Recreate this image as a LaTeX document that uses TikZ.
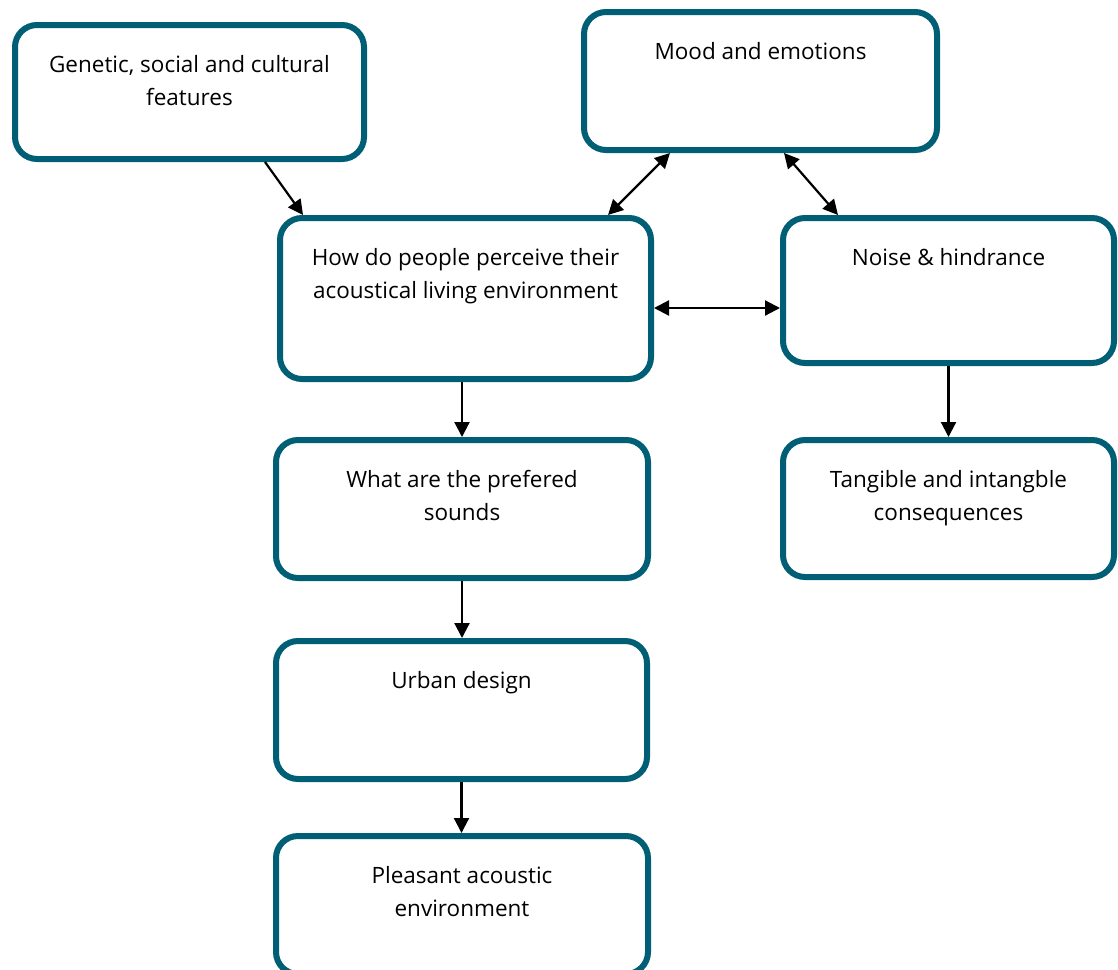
\documentclass[tikz,border=0pt]{standalone}
\usepackage{fontspec}
\setmainfont{Open Sans}
\usetikzlibrary{arrows.meta, positioning}
\usepackage{xcolor}
\definecolor{boxteal}{RGB}{0,94,117}

\begin{document}
\begin{tikzpicture}[
    x=1pt, y=-1pt,
    box/.style={rectangle, rounded corners=22pt, draw=boxteal, line width=6pt,
                fill=white, inner sep=0pt},
    lbl/.style={anchor=north, yshift=-33pt, inner sep=0pt, align=center,
                font=\fontsize{22.5}{33}\selectfont},
    arr/.style={-{Triangle[length=15pt, width=15pt]}, line width=2.2pt, color=black},
    both/.style={{Triangle[length=15pt, width=15pt]}-{Triangle[length=15pt, width=15pt]},
                 line width=2.2pt, color=black}
]
\clip (0,0) rectangle (1118,969);

% boxes
\node[box, minimum width=349pt, minimum height=134pt,
      label={[lbl]north:Genetic, social and cultural\\features}] (gen) at (189.5,92) {};
\node[box, minimum width=353pt, minimum height=138pt,
      label={[lbl]north:Mood and emotions}] (mood) at (760.5,81) {};
\node[box, minimum width=371pt, minimum height=161pt,
      label={[lbl]north:How do people perceive their\\acoustical living environment}] (how) at (465.5,298.5) {};
\node[box, minimum width=331pt, minimum height=145pt,
      label={[lbl]north:Noise \& hindrance}] (noise) at (948.5,290.5) {};
\node[box, minimum width=372pt, minimum height=138pt,
      label={[lbl]north:What are the prefered\\sounds}] (what) at (462,509) {};
\node[box, minimum width=331pt, minimum height=137pt,
      label={[lbl]north:Tangible and intangble\\consequences}] (tang) at (948.5,508.5) {};
\node[box, minimum width=371pt, minimum height=138pt,
      label={[lbl]north:Urban design}] (urban) at (461.5,710) {};
\node[box, minimum width=372pt, minimum height=138pt,
      label={[lbl]north:Pleasant acoustic\\environment}] (pleas) at (462,905) {};

% connectors
\draw[arr] ([xshift=75.5pt]gen.south) -- ([xshift=-162.5pt]how.north);
\draw[both] ([xshift=142.5pt]how.north) -- ([xshift=-90.5pt]mood.south);
\draw[both] ([xshift=23.5pt]mood.south) -- ([xshift=-110.5pt]noise.north);
\draw[both] ([yshift=-9.5pt]how.east) -- ([yshift=-9.5pt]how.east -| noise.west);
\draw[arr] (what.north |- how.south) -- (what.north);
\draw[arr] (noise.south) -- (tang.north);
\draw[arr] (what.south) -- (what.south |- urban.north);
\draw[arr] (urban.south) -- (urban.south |- pleas.north);

\end{tikzpicture}
\end{document}
